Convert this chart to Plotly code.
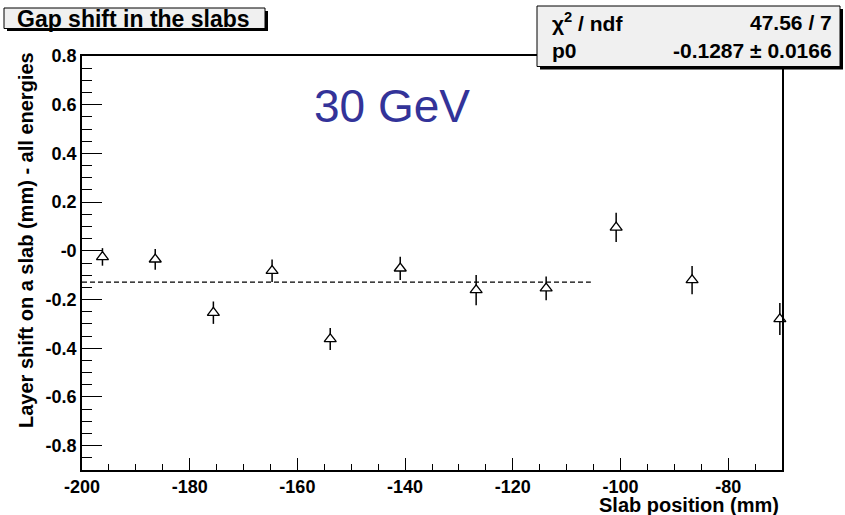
import plotly.graph_objects as go

# ---- data ----
slab_pos = [-196.2, -186.4, -175.6, -164.7, -153.9, -140.9, -126.8, -113.8, -100.8, -86.7, -70.4]
layer_shift = [-0.025, -0.035, -0.254, -0.082, -0.362, -0.072, -0.161, -0.154, 0.096, -0.120, -0.280]
shift_err = [0.036, 0.043, 0.046, 0.046, 0.045, 0.048, 0.062, 0.049, 0.060, 0.058, 0.066]

fit_x = [-200, -105.5]
fit_p0 = -0.1287
fit_p0_err = 0.0166
chi2_text = "47.56 / 7"

y_tickvals = [0.8, 0.6, 0.4, 0.2, 0.0, -0.2, -0.4, -0.6, -0.8]
y_ticktext = ["0.8", "0.6", "0.4", "0.2", "-0", "-0.2", "-0.4", "-0.6", "-0.8"]
x_tickvals = [-200, -180, -160, -140, -120, -100, -80]
x_ticktext = ["-200", "-180", "-160", "-140", "-120", "-100", "-80"]

# ---- geometry ----
W, H = 845, 515
L, R, T, B = 82, 63, 56, 45
PW, PH = W - L - R, H - T - B


def px(x):
    return (x - L) / PW


def py(y):
    return (H - B - y) / PH


FONT = "Liberation Sans, Arial, Helvetica, sans-serif"

fig = go.Figure()

fig.add_trace(go.Scatter(
    x=fit_x, y=[fit_p0] * len(fit_x), mode="lines",
    line=dict(color="black", width=1.2, dash="5px,3px"),
    showlegend=False, hoverinfo="skip"))

fig.add_trace(go.Scatter(
    x=slab_pos, y=layer_shift, mode="markers",
    marker=dict(symbol="triangle-up", size=10.5, color="white",
                line=dict(color="black", width=1.3)),
    error_y=dict(type="data", array=shift_err, visible=True,
                 color="black", thickness=1.5, width=0),
    cliponaxis=False, showlegend=False))

axis_font = dict(family=FONT, size=18, color="black", weight="bold")

fig.update_layout(
    width=W, height=H,
    margin=dict(l=L, r=R, t=T, b=B, pad=0),
    paper_bgcolor="white", plot_bgcolor="white",
    xaxis=dict(range=[-200, -70], showgrid=False, zeroline=False,
               showline=True, linecolor="black", linewidth=1.5, mirror=True,
               ticks="inside", ticklen=12, tickwidth=1.2, tickcolor="black",
               tickvals=x_tickvals, ticktext=x_ticktext, tickfont=axis_font,
               minor=dict(dtick=5, tick0=-200, ticks="inside", ticklen=6,
                          tickwidth=1.2, tickcolor="black", showgrid=False)),
    yaxis=dict(range=[-0.9, 0.8], showgrid=False, zeroline=False,
               showline=True, linecolor="black", linewidth=1.5, mirror=True,
               ticks="inside", ticklen=20, tickwidth=1.2, tickcolor="black",
               tickvals=y_tickvals, ticktext=y_ticktext, tickfont=axis_font,
               minor=dict(dtick=0.05, tick0=0, ticks="inside", ticklen=10,
                          tickwidth=1.2, tickcolor="black", showgrid=False)),
)

shapes = []
annotations = []

# title box
shapes.append(dict(type="rect", xref="paper", yref="paper",
                   x0=px(7), x1=px(268), y0=py(31), y1=py(11),
                   fillcolor="black", line=dict(width=0), layer="above"))
shapes.append(dict(type="rect", xref="paper", yref="paper",
                   x0=px(4), x1=px(265), y0=py(28.5), y1=py(8),
                   fillcolor="#f0f0f0", line=dict(color="black", width=1), layer="above"))
annotations.append(dict(xref="paper", yref="paper", x=px(133), y=py(18.5),
                        text="Gap shift in the slabs", showarrow=False,
                        xanchor="center", yanchor="middle",
                        font=dict(family=FONT, size=23, color="black", weight="bold")))

# stats box
shapes.append(dict(type="rect", xref="paper", yref="paper",
                   x0=px(540), x1=px(843), y0=py(69.5), y1=py(9),
                   fillcolor="black", line=dict(width=0), layer="above"))
shapes.append(dict(type="rect", xref="paper", yref="paper",
                   x0=px(537), x1=px(840), y0=py(66.5), y1=py(6),
                   fillcolor="#f0f0f0", line=dict(color="black", width=1), layer="above"))
stat_font = dict(family=FONT, size=21, color="black", weight="bold")
annotations.append(dict(xref="paper", yref="paper", x=px(550), y=py(22),
                        text="χ<sup>2</sup> / ndf", showarrow=False,
                        xanchor="left", yanchor="middle", font=stat_font))
annotations.append(dict(xref="paper", yref="paper", x=px(834), y=py(22),
                        text=chi2_text, showarrow=False,
                        xanchor="right", yanchor="middle", font=stat_font))
annotations.append(dict(xref="paper", yref="paper", x=px(550), y=py(51),
                        text="p0", showarrow=False,
                        xanchor="left", yanchor="middle", font=stat_font))
annotations.append(dict(xref="paper", yref="paper", x=px(834), y=py(51),
                        text=f"{fit_p0:.4f} ± {fit_p0_err:.4f}", showarrow=False,
                        xanchor="right", yanchor="middle", font=stat_font))

# energy label
annotations.append(dict(xref="paper", yref="paper", x=px(392), y=py(106),
                        text="30 GeV", showarrow=False,
                        xanchor="center", yanchor="middle",
                        font=dict(family=FONT, size=46, color="#333399")))

# axis titles
annotations.append(dict(xref="paper", yref="paper", x=px(781), y=py(505),
                        text="Slab position (mm)", showarrow=False,
                        xanchor="right", yanchor="middle",
                        font=dict(family=FONT, size=20, color="black", weight="bold")))
annotations.append(dict(xref="paper", yref="paper", x=px(26), y=py(240),
                        text="Layer shift on a slab (mm) - all energies", showarrow=False,
                        textangle=-90, xanchor="center", yanchor="middle",
                        font=dict(family=FONT, size=20, color="black", weight="bold")))

fig.update_layout(shapes=shapes, annotations=annotations)

fig.write_html("out.html")
